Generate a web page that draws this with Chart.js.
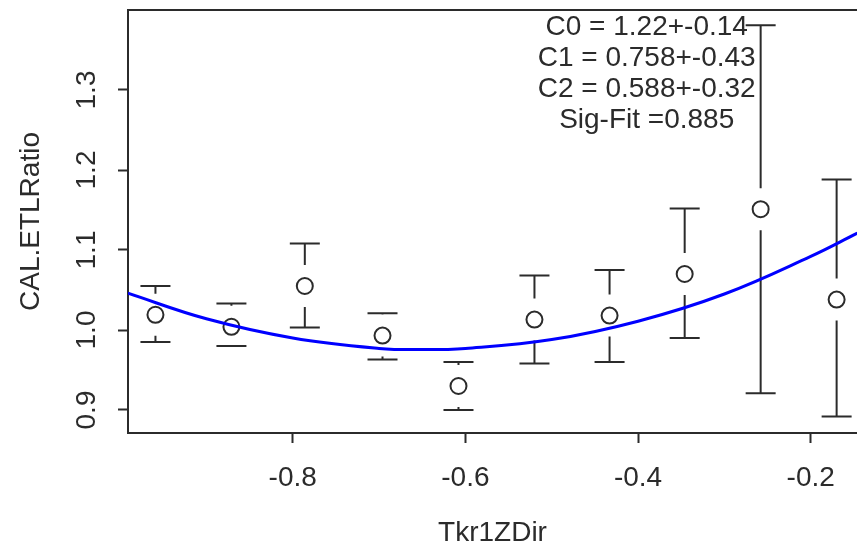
<!DOCTYPE html>
<html>
<head>
<meta charset="utf-8">
<script src="https://cdn.jsdelivr.net/npm/chart.js@4/dist/chart.umd.min.js"></script>
<style>
  html, body { margin: 0; padding: 0; background: #ffffff; overflow: hidden; }
  #wrap { position: relative; width: 857px; height: 545px; }
</style>
</head>
<body>
<div id="wrap"><canvas id="c"></canvas></div>
<script>
// ---- data ----
const xVals = [-0.959, -0.871, -0.786, -0.696, -0.608, -0.520, -0.433, -0.346, -0.258, -0.170];
const yVals = [1.019, 1.004, 1.055, 0.993, 0.930, 1.013, 1.018, 1.070, 1.151, 1.038];
const yHi   = [1.055, 1.033, 1.108, 1.021, 0.960, 1.068, 1.075, 1.152, 1.381, 1.188];
const yLo   = [0.985, 0.980, 1.003, 0.963, 0.900, 0.958, 0.960, 0.990, 0.921, 0.892];

const fitX = [-0.991, -0.9, -0.8, -0.7, -0.65, -0.6, -0.5, -0.4, -0.3, -0.2, -0.146];
const fitY = [1.046, 1.014, 0.990, 0.977, 0.9755, 0.977, 0.988, 1.011, 1.045, 1.092, 1.121];

const xTicks = [-0.8, -0.6, -0.4, -0.2];
const yTicks = [0.9, 1.0, 1.1, 1.2, 1.3];

const fitText = ["C0 = 1.22+-0.14", "C1 = 0.758+-0.43", "C2 = 0.588+-0.32", "Sig-Fit =0.885"];
const fitTextAnchor = { x: -0.39, y: 1.379 };

const xTitle = "Tkr1ZDir";
const yTitle = "CAL.ETLRatio";

// ---- styling ----
const FONT = "'Liberation Sans', Arial, 'DejaVu Sans', sans-serif";
const INK = '#2b2b2b';

const errorBars = {
  id: 'errorBars',
  beforeDatasetsDraw(chart) {
    const { ctx, scales: { x, y } } = chart;
    const gap = 21, cap = 15;
    ctx.save();
    ctx.strokeStyle = INK;
    ctx.lineWidth = 2;
    ctx.beginPath();
    for (let i = 0; i < xVals.length; i++) {
      const px = x.getPixelForValue(xVals[i]);
      const pc = y.getPixelForValue(yVals[i]);
      const ph = y.getPixelForValue(yHi[i]);
      const pl = y.getPixelForValue(yLo[i]);
      if (pc - ph > gap) { ctx.moveTo(px, pc - gap); ctx.lineTo(px, ph); }
      if (pl - pc > gap) { ctx.moveTo(px, pc + gap); ctx.lineTo(px, pl); }
      ctx.moveTo(px - cap, ph); ctx.lineTo(px + cap, ph);
      ctx.moveTo(px - cap, pl); ctx.lineTo(px + cap, pl);
    }
    ctx.stroke();
    ctx.restore();
  }
};

const frameAndText = {
  id: 'frameAndText',
  afterDraw(chart) {
    const { ctx, chartArea: a, scales: { x, y } } = chart;
    ctx.save();
    ctx.strokeStyle = INK;
    ctx.lineWidth = 2;
    ctx.beginPath();
    ctx.moveTo(a.left, a.top);
    ctx.lineTo(a.right, a.top);
    ctx.stroke();
    ctx.fillStyle = INK;
    ctx.font = "28px " + FONT;
    ctx.textAlign = 'center';
    ctx.textBaseline = 'middle';
    const cx = x.getPixelForValue(fitTextAnchor.x);
    const cy = y.getPixelForValue(fitTextAnchor.y);
    fitText.forEach((t, i) => ctx.fillText(t, cx, cy + i * 31));
    ctx.restore();
  }
};

const whiteBg = {
  id: 'whiteBg',
  beforeDraw(chart) {
    const { ctx } = chart;
    ctx.save();
    ctx.fillStyle = '#ffffff';
    ctx.fillRect(0, 0, chart.width, chart.height);
    ctx.restore();
  }
};

function noPad(s) { s.paddingTop = 0; s.paddingBottom = 0; s.paddingLeft = 0; s.paddingRight = 0; }

new Chart(document.getElementById('c'), {
  type: 'scatter',
  data: {
    datasets: [
      {
        label: 'data',
        data: xVals.map((v, i) => ({ x: v, y: yVals[i] })),
        pointStyle: 'circle',
        pointRadius: 8,
        pointBorderWidth: 2,
        pointBorderColor: INK,
        pointBackgroundColor: 'rgba(0,0,0,0)',
        showLine: false,
        order: 2
      },
      {
        label: 'fit',
        data: fitX.map((v, i) => ({ x: v, y: fitY[i] })),
        showLine: true,
        borderColor: '#0000ff',
        borderWidth: 3,
        pointRadius: 0,
        tension: 0.4,
        fill: false,
        order: 1
      }
    ]
  },
  options: {
    responsive: true,
    maintainAspectRatio: false,
    animation: false,
    layout: { autoPadding: false, padding: { top: 10, right: 0, left: 0, bottom: 0 } },
    plugins: { legend: { display: false }, tooltip: { enabled: false } },
    scales: {
      x: {
        type: 'linear',
        min: -0.9908,
        max: -0.1464,
        afterBuildTicks(s) { s.ticks = xTicks.map(v => ({ value: v })); },
        afterFit(s) { s.height = 112; noPad(s); },
        ticks: {
          autoSkip: false,
          color: INK,
          padding: 18,
          font: { family: FONT, size: 28 },
          callback: v => v.toFixed(1)
        },
        grid: { display: true, drawOnChartArea: false, drawTicks: true, tickLength: 10, tickWidth: 2, tickColor: INK },
        border: { display: true, color: INK, width: 2 },
        title: { display: true, text: xTitle, color: INK, font: { family: FONT, size: 28, lineHeight: 1 }, padding: { top: 0, bottom: -2 } }
      },
      y: {
        type: 'linear',
        min: 0.87125,
        max: 1.4,
        afterBuildTicks(s) { s.ticks = yTicks.map(v => ({ value: v })); },
        afterFit(s) { s.width = 128; noPad(s); },
        ticks: {
          autoSkip: false,
          color: INK,
          padding: 11,
          minRotation: 90,
          maxRotation: 90,
          crossAlign: 'center',
          font: { family: FONT, size: 28 },
          callback: v => v.toFixed(1)
        },
        grid: { display: true, drawOnChartArea: false, drawTicks: true, tickLength: 10, tickWidth: 2, tickColor: INK },
        border: { display: true, color: INK, width: 2 },
        title: { display: true, text: yTitle, color: INK, font: { family: FONT, size: 28, lineHeight: 1 }, padding: { top: 17, bottom: 0 } }
      }
    }
  },
  plugins: [whiteBg, errorBars, frameAndText]
});
</script>
</body>
</html>
